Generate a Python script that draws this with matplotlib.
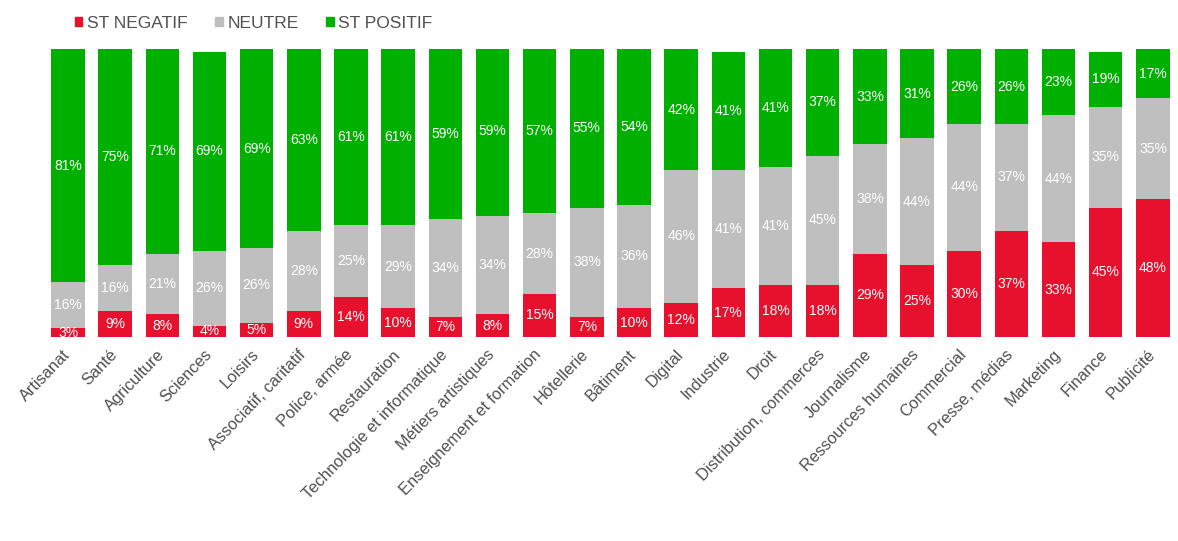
import matplotlib
matplotlib.use("Agg")
import matplotlib.pyplot as plt
import matplotlib.transforms as mtransforms
import numpy as np
from matplotlib.patches import Patch

plt.rcParams["font.family"] = ["Liberation Sans", "DejaVu Sans"]

categories = ["Artisanat", "Santé", "Agriculture", "Sciences", "Loisirs",
              "Associatif, caritatif", "Police, armée", "Restauration",
              "Technologie et informatique", "Métiers artistiques",
              "Enseignement et formation", "Hôtellerie", "Bâtiment", "Digital",
              "Industrie", "Droit", "Distribution, commerces", "Journalisme",
              "Ressources humaines", "Commercial", "Presse, médias",
              "Marketing", "Finance", "Publicité"]
negatif = [3, 9, 8, 4, 5, 9, 14, 10, 7, 8, 15, 7, 10, 12, 17, 18, 18, 29, 25,
           30, 37, 33, 45, 48]
neutre = [16, 16, 21, 26, 26, 28, 25, 29, 34, 34, 28, 38, 36, 46, 41, 41, 45,
          38, 44, 44, 37, 44, 35, 35]
positif = [81, 75, 71, 69, 69, 63, 61, 61, 59, 59, 57, 55, 54, 42, 41, 41, 37,
           33, 31, 26, 26, 23, 19, 17]

RED, GREY, GREEN = "#E8112D", "#BFBFBF", "#00B000"

fig = plt.figure(figsize=(11.78, 5.41), dpi=100)
ax = fig.add_axes([0.0377, 0.377, 0.961, 0.532])

x = np.arange(len(categories))
neg = np.array(negatif)
neu = np.array(neutre)
pos = np.array(positif)
w = 0.71
ax.bar(x, neg, w, color=RED)
ax.bar(x, neu, w, bottom=neg, color=GREY)
ax.bar(x, pos, w, bottom=neg + neu, color=GREEN)

for i in x:
    for bottom, val in [(0, neg[i]), (neg[i], neu[i]), (neg[i] + neu[i], pos[i])]:
        ax.text(i, bottom + val / 2, f"{val}%", ha="center", va="center",
                color="white", fontsize=10)

ax.set_xlim(-0.5, len(categories) - 0.5)
ax.set_ylim(0, 100)
ax.set_xticks(x)
ax.set_xticklabels(categories, rotation=46, ha="right", rotation_mode="anchor",
                   fontsize=11.8, color="#505050")
ax.tick_params(axis="x", length=0, pad=7)
shift = mtransforms.ScaledTranslation(-6 / 100, 0, fig.dpi_scale_trans)
for lab in ax.get_xticklabels():
    lab.set_transform(lab.get_transform() + shift)
ax.set_yticks([])
for s in ax.spines.values():
    s.set_visible(False)

handles = [Patch(color=RED, label="ST NEGATIF"),
           Patch(color=GREY, label="NEUTRE"),
           Patch(color=GREEN, label="ST POSITIF")]
fig.legend(handles=handles, loc="upper left", bbox_to_anchor=(0.05, 1.0),
           ncol=3, frameon=False, fontsize=12.5, handlelength=0.45,
           handleheight=0.45, handletextpad=0.25, columnspacing=1.6,
           labelcolor="#505050")

fig.savefig("out.png", dpi=100)
